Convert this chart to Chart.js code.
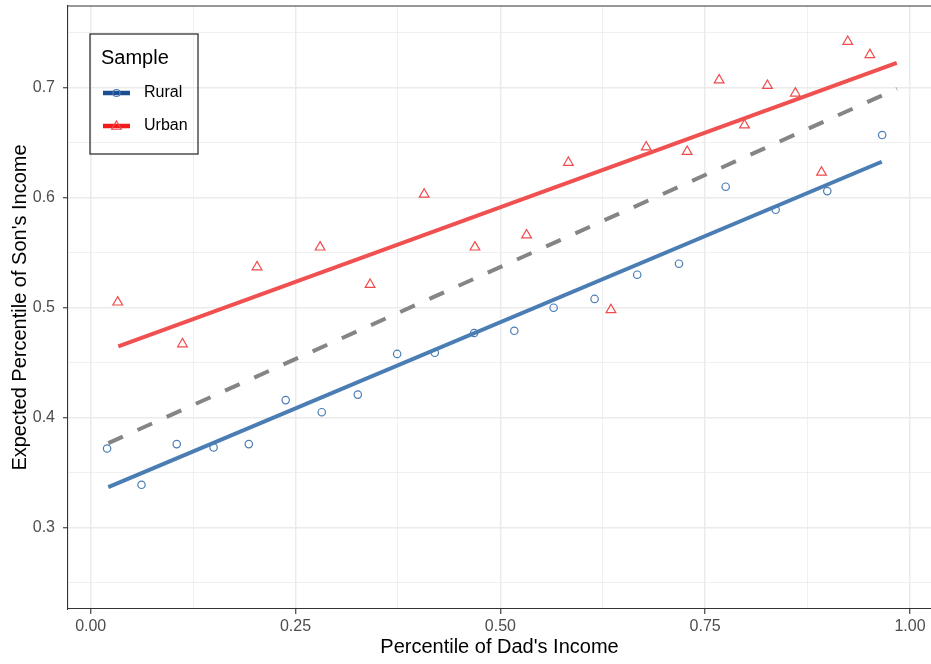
<!DOCTYPE html>
<html><head><meta charset="utf-8">
<script src="https://cdn.jsdelivr.net/npm/chart.js@4.4.0/dist/chart.umd.min.js"></script>
<style>html,body{margin:0;padding:0;background:#fff;}canvas{display:block;}</style>
</head><body>
<canvas id="c" width="931" height="664"></canvas>
<script>
// ---- data ----
const ruralX = [0.020, 0.062, 0.105, 0.150, 0.193, 0.238, 0.282, 0.326, 0.374, 0.420, 0.468, 0.517, 0.565, 0.615, 0.667, 0.718, 0.775, 0.836, 0.899, 0.966];
const ruralY = [0.372, 0.339, 0.376, 0.373, 0.376, 0.416, 0.405, 0.421, 0.458, 0.459, 0.477, 0.479, 0.500, 0.508, 0.530, 0.540, 0.610, 0.589, 0.606, 0.657];
const urbanX = [0.033, 0.112, 0.203, 0.280, 0.341, 0.407, 0.469, 0.532, 0.583, 0.635, 0.678, 0.728, 0.767, 0.798, 0.826, 0.860, 0.892, 0.924, 0.951];
const urbanY = [0.505, 0.467, 0.537, 0.555, 0.521, 0.603, 0.555, 0.566, 0.632, 0.498, 0.646, 0.642, 0.707, 0.666, 0.702, 0.695, 0.623, 0.742, 0.730];
const ruralFitX = [0.0215, 0.9655];
const ruralFitY = [0.3369, 0.6327];
const urbanFitX = [0.0337, 0.9838];
const urbanFitY = [0.4648, 0.7227];
const pooledFitX = [0.0215, 0.9840];
const pooledFitY = [0.3769, 0.6990];
const xTickValues = [0, 0.125, 0.25, 0.375, 0.5, 0.625, 0.75, 0.875, 1.0];
const xTickLabels = ['0.00', '', '0.25', '', '0.50', '', '0.75', '', '1.00'];
const yTickValues = [0.25, 0.3, 0.35, 0.4, 0.45, 0.5, 0.55, 0.6, 0.65, 0.7, 0.75];
const yTickLabels = ['', '0.3', '', '0.4', '', '0.5', '', '0.6', '', '0.7', ''];
const seriesNames = ['Rural', 'Urban'];
const legendTitle = 'Sample';
const xTitle = "Percentile of Dad's Income";
const yTitle = "Expected Percentile of Son's Income";
// ---- styling ----
const FONT = "'Liberation Sans', Arial, Helvetica, sans-serif";
const BLUE = '#4A7DB5', RED = '#F04A4A';
const BLUE_LINE = '#4A7DB3', RED_LINE = '#F05050';
const BLUE_KEY = '#1C4E92', RED_KEY = '#F31B1B';
const GRID = '#EBEBEB', AXIS = '#333333', TICKTXT = '#4D4D4D';
const xMin = -0.0277, xMax = 1.0256, yMin = 0.2261, yMax = 0.7743;

const pts = (xs, ys) => xs.map((x, i) => ({x: x, y: ys[i]}));

const topBorder = {
  id: 'topBorder',
  afterDraw(chart) {
    const {ctx, chartArea: a} = chart;
    ctx.save();
    ctx.strokeStyle = AXIS; ctx.lineWidth = 1.1;
    ctx.beginPath(); ctx.moveTo(a.left, a.top); ctx.lineTo(a.right, a.top); ctx.stroke();
    ctx.restore();
  }
};

function drawTri(ctx, x, y, r) {
  ctx.beginPath();
  for (let k = 0; k < 3; k++) {
    const ang = k * 2 * Math.PI / 3;
    const px = x + Math.sin(ang) * r, py = y - Math.cos(ang) * r;
    if (k === 0) ctx.moveTo(px, py); else ctx.lineTo(px, py);
  }
  ctx.closePath(); ctx.stroke();
}

const legendPlugin = {
  id: 'sampleLegend',
  afterDraw(chart) {
    const {ctx, chartArea: a} = chart;
    const L = a.left + 22, T = a.top + 28, W = 108, H = 120;
    ctx.save();
    ctx.strokeStyle = AXIS; ctx.lineWidth = 1.3;
    ctx.strokeRect(L, T, W, H);
    ctx.fillStyle = '#000';
    ctx.font = '20px ' + FONT;
    ctx.textBaseline = 'alphabetic'; ctx.textAlign = 'left';
    ctx.fillText(legendTitle, L + 11, T + 30);
    const rows = [T + 59, T + 92];
    const keyCols = [BLUE_KEY, RED_KEY];
    rows.forEach((ry, i) => {
      ctx.strokeStyle = keyCols[i]; ctx.lineWidth = 4.5; ctx.lineCap = 'butt';
      ctx.beginPath(); ctx.moveTo(L + 13, ry); ctx.lineTo(L + 40, ry); ctx.stroke();
      ctx.lineWidth = 1.2;
      if (i === 0) {
        ctx.strokeStyle = BLUE;
        ctx.beginPath(); ctx.arc(L + 26.5, ry, 3.5, 0, Math.PI * 2); ctx.stroke();
      } else {
        ctx.strokeStyle = RED;
        drawTri(ctx, L + 26.5, ry + 0.5, 5.5);
      }
      ctx.fillStyle = '#000';
      ctx.font = '16px ' + FONT;
      ctx.textBaseline = 'middle';
      ctx.fillText(seriesNames[i], L + 54, ry);
    });
    ctx.restore();
  }
};

const majX = i => xTickLabels[i] !== '';
const majY = i => yTickLabels[i] !== '';

new Chart(document.getElementById('c'), {
  type: 'scatter',
  data: {
    datasets: [
      {label: seriesNames[0], data: pts(ruralX, ruralY), pointStyle: 'circle', pointRadius: 3.7,
       borderColor: BLUE, backgroundColor: 'rgba(0,0,0,0)', pointBorderWidth: 1.2, order: 0},
      {label: seriesNames[1], data: pts(urbanX, urbanY), pointStyle: 'triangle', pointRadius: 5.6,
       borderColor: RED, backgroundColor: 'rgba(0,0,0,0)', pointBorderWidth: 1.2, order: 0},
      {type: 'line', label: 'fit-pooled', data: pts(pooledFitX, pooledFitY), showLine: true, borderColor: '#858585',
       borderWidth: 4, borderDash: [16, 16], borderCapStyle: 'butt', pointRadius: 0, fill: false, order: 3},
      {type: 'line', label: 'fit-rural', data: pts(ruralFitX, ruralFitY), showLine: true, borderColor: BLUE_LINE,
       borderWidth: 4, pointRadius: 0, fill: false, order: 2},
      {type: 'line', label: 'fit-urban', data: pts(urbanFitX, urbanFitY), showLine: true, borderColor: RED_LINE,
       borderWidth: 4, pointRadius: 0, fill: false, order: 1}
    ]
  },
  options: {
    responsive: false, animation: false, devicePixelRatio: 1,
    layout: {autoPadding: false, padding: {top: 6, left: 0, right: 0, bottom: 0}},
    plugins: {legend: {display: false}, tooltip: {enabled: false}},
    scales: {
      x: {
        type: 'linear', min: xMin, max: xMax,
        afterBuildTicks: s => { s.ticks = xTickValues.map(v => ({value: v})); },
        afterFit: s => { s.height = 55; s.paddingLeft = 0; s.paddingRight = 0; },
        ticks: {callback: (v, i) => xTickLabels[i], color: TICKTXT, font: {family: FONT, size: 16},
                padding: 3, maxRotation: 0, autoSkip: false},
        grid: {color: GRID, lineWidth: c => majX(c.index) ? 1.5 : 0.75,
               tickColor: c => majX(c.index) ? AXIS : 'rgba(0,0,0,0)', tickLength: 5, tickWidth: 1.1},
        border: {display: true, color: AXIS, width: 1.1},
        title: {display: true, text: xTitle, color: '#000', font: {family: FONT, size: 20}, padding: {top: 0, bottom: 5}}
      },
      y: {
        type: 'linear', min: yMin, max: yMax,
        afterBuildTicks: s => { s.ticks = yTickValues.map(v => ({value: v})); },
        afterFit: s => { s.width = 68; s.paddingTop = 0; s.paddingBottom = 0; },
        ticks: {callback: (v, i) => yTickLabels[i], color: TICKTXT, font: {family: FONT, size: 16},
                padding: 8, autoSkip: false},
        grid: {color: GRID, lineWidth: c => majY(c.index) ? 1.5 : 0.75,
               tickColor: c => majY(c.index) ? AXIS : 'rgba(0,0,0,0)', tickLength: 5, tickWidth: 1.1},
        border: {display: true, color: AXIS, width: 1.1},
        title: {display: true, text: yTitle, color: '#000', font: {family: FONT, size: 20}, padding: {top: 8, bottom: 0}}
      }
    }
  },
  plugins: [topBorder, legendPlugin]
});
</script>
</body></html>
